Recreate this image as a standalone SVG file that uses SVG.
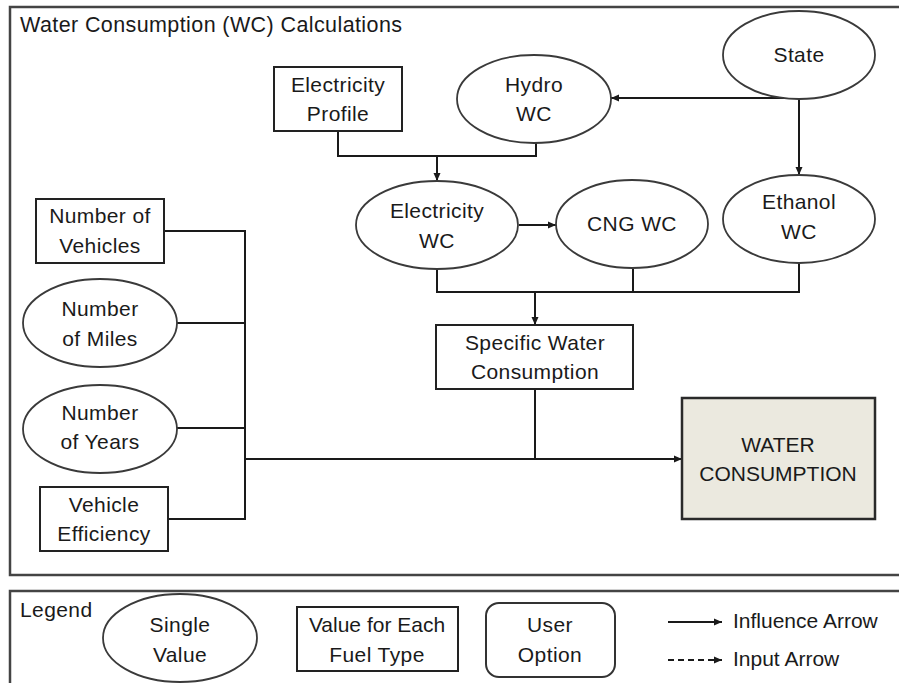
<svg xmlns="http://www.w3.org/2000/svg" width="899" height="683" viewBox="0 0 899 683">
<defs>
<marker id="ah" viewBox="0 0 8 8" refX="8" refY="4" markerWidth="8" markerHeight="8" markerUnits="userSpaceOnUse" orient="auto">
<path d="M0,0.5 L8,4 L0,7.5 Z" fill="#1a1a1a"/>
</marker>
<style>
.t{font-family:"Liberation Sans",Arial,sans-serif;font-size:21px;letter-spacing:0.4px;fill:#1a1a1a;text-anchor:middle}
.tl{font-family:"Liberation Sans",Arial,sans-serif;font-size:21px;letter-spacing:0.4px;fill:#1a1a1a}
.box{fill:#fff;stroke:#222;stroke-width:2}
.ell{fill:#fff;stroke:#3a3a3a;stroke-width:1.8}
.frame{fill:none;stroke:#444;stroke-width:2.5}
.c{fill:none;stroke:#1a1a1a;stroke-width:2}
.ca{fill:none;stroke:#1a1a1a;stroke-width:2;marker-end:url(#ah)}
</style>
</defs>
<rect class="frame" x="10" y="7" width="900" height="568"/>
<text class="tl" x="20" y="32" style="font-size:21.5px">Water Consumption (WC) Calculations</text>
<g id="connectors">
<polyline class="c" points="338,131 338,156 536,156 536,143"/>
<line class="ca" x1="437" y1="156" x2="437" y2="181"/>
<line class="ca" x1="799" y1="98" x2="611" y2="98"/>
<line class="ca" x1="799" y1="99" x2="799" y2="175"/>
<line class="ca" x1="519" y1="225" x2="556" y2="225"/>
<polyline class="c" points="437,269 437,292 799,292 799,263"/>
<line class="c" x1="633" y1="269" x2="633" y2="292"/>
<line class="ca" x1="535" y1="292" x2="535" y2="325"/>
<polyline class="c" points="164,231 245,231 245,519 168,519"/>
<line class="c" x1="176" y1="323" x2="245" y2="323"/>
<line class="c" x1="176" y1="428" x2="245" y2="428"/>
<line class="c" x1="535" y1="389" x2="535" y2="459"/>
<line class="ca" x1="245" y1="459" x2="682" y2="459"/>
</g>
<g id="electricity-profile">
<rect class="box" x="274" y="67" width="128" height="64"/>
<text class="t" x="338" y="92">Electricity</text>
<text class="t" x="338" y="121">Profile</text>
</g>
<g id="hydro-wc">
<ellipse class="ell" cx="534" cy="99" rx="77" ry="44"/>
<text class="t" x="534" y="92">Hydro</text>
<text class="t" x="534" y="121">WC</text>
</g>
<g id="state">
<ellipse class="ell" cx="799" cy="55" rx="76" ry="44"/>
<text class="t" x="799" y="62">State</text>
</g>
<g id="ethanol-wc">
<ellipse class="ell" cx="799" cy="219" rx="76" ry="44"/>
<text class="t" x="799" y="209">Ethanol</text>
<text class="t" x="799" y="239">WC</text>
</g>
<g id="cng-wc">
<ellipse class="ell" cx="632" cy="224" rx="76" ry="44"/>
<text class="t" x="632" y="231">CNG WC</text>
</g>
<g id="electricity-wc">
<ellipse class="ell" cx="437" cy="225" rx="81" ry="44"/>
<text class="t" x="437" y="218">Electricity</text>
<text class="t" x="437" y="248">WC</text>
</g>
<g id="specific-water-consumption">
<rect class="box" x="436" y="325" width="197" height="64"/>
<text class="t" x="535" y="350">Specific Water</text>
<text class="t" x="535" y="379">Consumption</text>
</g>
<g id="water-consumption">
<rect x="682" y="398" width="193" height="121" fill="#ebe9df" stroke="#2a2a2a" stroke-width="2.5"/>
<text class="t" x="778" y="452" style="letter-spacing:0">WATER</text>
<text class="t" x="778" y="481" style="letter-spacing:0">CONSUMPTION</text>
</g>
<g id="number-of-vehicles">
<rect class="box" x="36" y="199" width="128" height="64"/>
<text class="t" x="100" y="223">Number of</text>
<text class="t" x="100" y="253">Vehicles</text>
</g>
<g id="number-of-miles">
<ellipse class="ell" cx="100" cy="323" rx="77" ry="44"/>
<text class="t" x="100" y="316">Number</text>
<text class="t" x="100" y="346">of Miles</text>
</g>
<g id="number-of-years">
<ellipse class="ell" cx="100" cy="429" rx="77" ry="44"/>
<text class="t" x="100" y="420">Number</text>
<text class="t" x="100" y="449">of Years</text>
</g>
<g id="vehicle-efficiency">
<rect class="box" x="40" y="487" width="128" height="64"/>
<text class="t" x="104" y="512">Vehicle</text>
<text class="t" x="104" y="541">Efficiency</text>
</g>
<g id="legend">
<rect class="frame" x="10" y="591" width="900" height="100"/>
<text class="tl" x="20" y="617">Legend</text>
<ellipse class="ell" cx="180" cy="638" rx="77" ry="44"/>
<text class="t" x="180" y="632">Single</text>
<text class="t" x="180" y="662">Value</text>
<rect class="box" x="297" y="607" width="161" height="64"/>
<text class="t" x="377" y="632" style="letter-spacing:0">Value for Each</text>
<text class="t" x="377" y="662">Fuel Type</text>
<rect class="box" x="486" y="603" width="129" height="74" rx="13" ry="13" style="stroke:#333"/>
<text class="t" x="550" y="632">User</text>
<text class="t" x="550" y="662">Option</text>
<line class="ca" x1="668" y1="622" x2="722" y2="622" style="stroke-width:1.8"/>
<text class="tl" x="733" y="628" style="letter-spacing:0">Influence Arrow</text>
<line class="ca" x1="668" y1="660" x2="722" y2="660" style="stroke-width:1.8;stroke-dasharray:6,4"/>
<text class="tl" x="733" y="666" style="letter-spacing:0">Input Arrow</text>
</g>
</svg>
